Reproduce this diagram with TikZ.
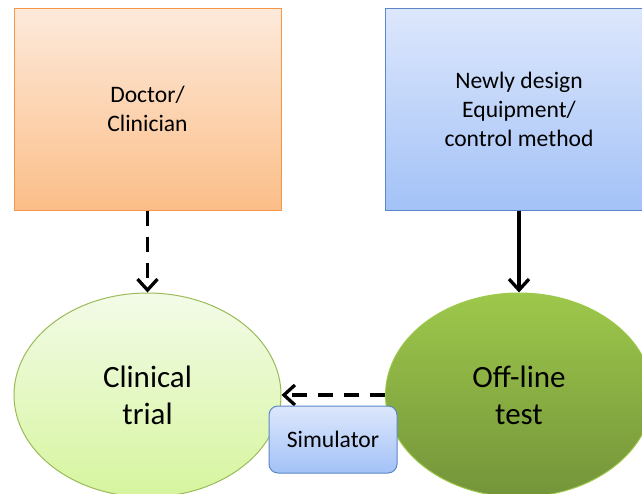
\documentclass[tikz,border=0pt]{standalone}
\usepackage{fontspec}
\setmainfont{Carlito}
\usetikzlibrary{arrows.meta,shapes.geometric}
\definecolor{orbd}{HTML}{F79646}
\definecolor{ortop}{HTML}{FDEADB}
\definecolor{orbot}{HTML}{FBBE88}
\definecolor{blbd}{HTML}{5B87C9}
\definecolor{bltop}{HTML}{DDE7FC}
\definecolor{blbot}{HTML}{A3C2F7}
\definecolor{gnbd}{HTML}{9BBB59}
\definecolor{lgtop}{HTML}{F3FBE8}
\definecolor{lgbot}{HTML}{D6F59E}
\definecolor{dgtop}{HTML}{9DC84B}
\definecolor{dgbot}{HTML}{74943A}
\tikzset{
  smalltext/.style={font=\fontsize{23.6}{29}\selectfont, align=center},
  bigtext/.style={font=\fontsize{31}{37}\selectfont, align=center},
  bigbox/.style={rectangle, minimum width=267pt, minimum height=202pt, inner sep=0pt, line width=1pt, smalltext},
  bigell/.style={ellipse, minimum width=267pt, minimum height=204pt, inner sep=0pt, line width=1pt, bigtext},
  dasharrow/.style={line width=3.3pt, dash pattern=on 15pt off 11pt, -{Straight Barb[length=11pt,width=20pt]}},
  solidarrow/.style={line width=3.3pt, -{Straight Barb[length=11pt,width=20pt]}}
}
\begin{document}
\begin{tikzpicture}[x=1pt,y=-1pt]
\useasboundingbox (0,0) rectangle (642,493);
\clip (0,0) rectangle (642,493);
\node[bigbox, draw=orbd, top color=ortop, bottom color=orbot] (doc) at (147.5,109) {Doctor/\\Clinician};
\node[bigbox, draw=blbd, top color=bltop, bottom color=blbot] (new) at (519,109) {Newly design\\Equipment/\\control method};
\node[bigell, draw=gnbd, top color=lgtop, bottom color=lgbot] (clin) at (147.5,395) {Clinical\\trial};
\node[bigell, draw=dgtop, top color=dgtop, bottom color=dgbot] (off) at (519,395) {Off-line\\test};
\draw[dasharrow] (doc.south) -- (clin.north);
\draw[solidarrow] (new.south) -- (off.north);
\draw[dasharrow] (off.west) -- (clin.east);
\node[rectangle, rounded corners=9pt, minimum width=128pt, minimum height=67pt, inner sep=0pt, line width=1pt, draw=blbd, top color=bltop, bottom color=blbot, smalltext] (sim) at (333,439.5) {Simulator};
\end{tikzpicture}
\end{document}
